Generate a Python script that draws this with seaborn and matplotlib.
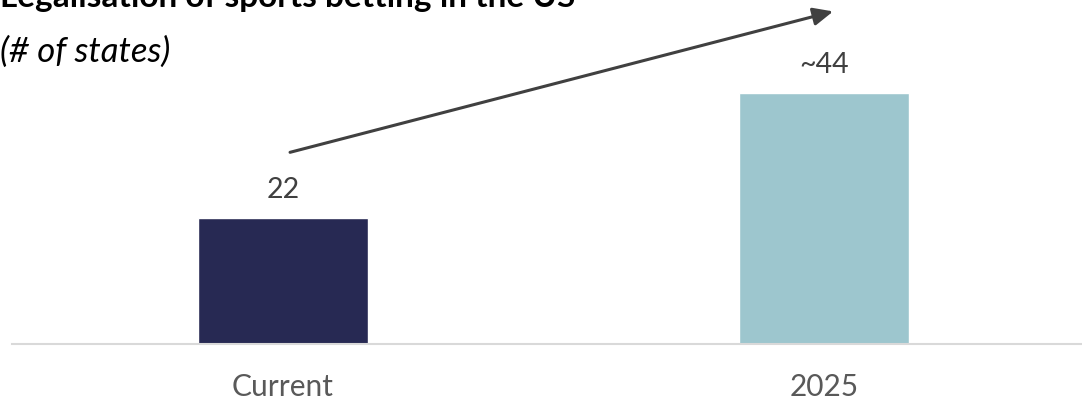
import matplotlib
matplotlib.use("Agg")
import matplotlib.pyplot as plt
import seaborn as sns
import pandas as pd

categories = ["Current", "2025"]
values = [22, 44]
value_labels = ["22", "~44"]
colors = ["#272953", "#9DC6CE"]

title = "Legalisation of sports betting in the US"
subtitle = "(# of states)"

sns.set_theme(style="white")
plt.rcParams["font.family"] = ["Lato", "DejaVu Sans"]

df = pd.DataFrame({"cat": categories, "val": values})

fig = plt.figure(figsize=(10.82, 4.0), dpi=100)
ax = fig.add_axes([12 / 1082, 56 / 400, 1070 / 1082, 344 / 400])

sns.barplot(data=df, x="cat", y="val", hue="cat", palette=colors,
            width=0.314, legend=False, ax=ax, saturation=1)

ax.set_ylim(0, 60.3)
ax.set_xlim(-0.501, 1.477)

for i, (v, lab) in enumerate(zip(values, value_labels)):
    ax.annotate(lab, xy=(i, v), xytext=(0, 14.4), textcoords="offset points",
                ha="center", va="baseline", fontsize=20.5, color="#404040")

ax.annotate("", xy=(1.017, values[1] + 14.3), xytext=(0.013, values[0] + 11.6),
            arrowprops=dict(arrowstyle="-|>,head_length=1.0,head_width=0.45",
                            color="#404040", lw=2.2, shrinkA=0, shrinkB=0),
            annotation_clip=False)

ax.set_xlabel("")
ax.set_ylabel("")
ax.set_yticks([])
ax.tick_params(axis="x", length=0, labelsize=21.5, labelcolor="#595959", pad=21)
for s in ["top", "right", "left"]:
    ax.spines[s].set_visible(False)
ax.spines["bottom"].set_color("#D9D9D9")
ax.spines["bottom"].set_linewidth(1.5)

fig.text(0.0, 393 / 400, title, fontsize=24, fontweight="bold", color="black",
         ha="left", va="baseline")
fig.text(0.0, 338 / 400, subtitle, fontsize=25, fontstyle="italic", color="black",
         ha="left", va="baseline")

fig.savefig("out.png", dpi=100)
